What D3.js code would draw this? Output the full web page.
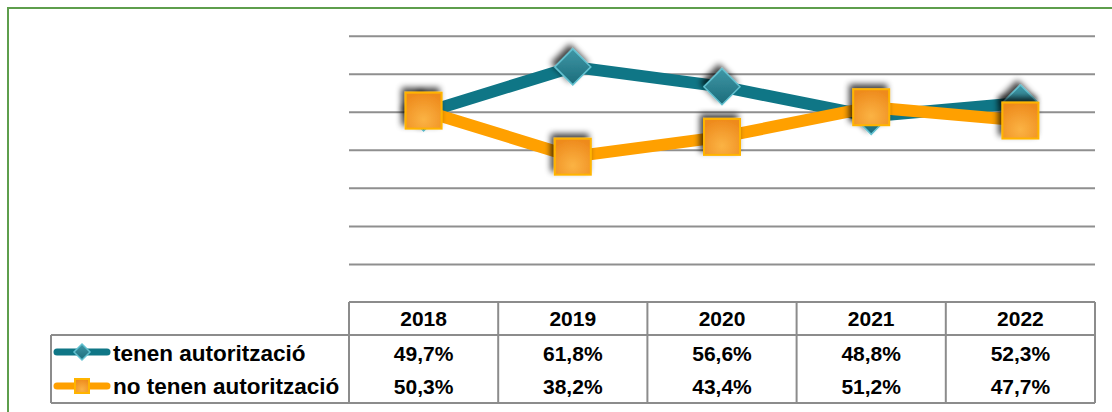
<!DOCTYPE html>
<html>
<head>
<meta charset="utf-8">
<script src="https://cdnjs.cloudflare.com/ajax/libs/d3/7.8.5/d3.min.js"></script>
<style>
  body { margin: 0; background: #fff; }
  svg { display: block; font-family: "Liberation Sans", Arial, sans-serif; }
</style>
</head>
<body>
<div id="wrapper"></div>
<script>
// data
const years = ["2018", "2019", "2020", "2021", "2022"]
const seriesNames = ["tenen autorització", "no tenen autorització"]
const tenen = [49.7, 61.8, 56.6, 48.8, 52.3]
const noTenen = [50.3, 38.2, 43.4, 51.2, 47.7]
const gridTicks = [10, 20, 30, 40, 50, 60, 70]

const fmt = v => v.toFixed(1).replace(".", ",") + "%"

const width = 1112, height = 412
const plot = { left: 349, right: 1095, top: 35.7, bottom: 302 }
const table = { legendLeft: 51, headerTop: 302, headerBottom: 335, bottom: 403 }

const svg = d3.select("#wrapper").append("svg")
  .attr("width", width).attr("height", height)

// defs
const defs = svg.append("defs")
const shadow = defs.append("filter").attr("id", "shadow")
  .attr("x", "-50%").attr("y", "-50%").attr("width", "200%").attr("height", "200%")
shadow.append("feGaussianBlur").attr("in", "SourceAlpha").attr("stdDeviation", 3).attr("result", "b")
shadow.append("feOffset").attr("in", "b").attr("dx", -3).attr("dy", -4).attr("result", "o")
shadow.append("feComponentTransfer").attr("in", "o").attr("result", "s")
  .append("feFuncA").attr("type", "linear").attr("slope", 0.75)
const merge = shadow.append("feMerge")
merge.append("feMergeNode").attr("in", "s")
merge.append("feMergeNode").attr("in", "SourceGraphic")

const sqGrad = defs.append("radialGradient").attr("id", "sqGrad")
  .attr("cx", "50%").attr("cy", "75%").attr("r", "75%")
sqGrad.append("stop").attr("offset", "0%").attr("stop-color", "#fbb344")
sqGrad.append("stop").attr("offset", "100%").attr("stop-color", "#ee8a1c")

const dmGrad = defs.append("linearGradient").attr("id", "dmGrad")
  .attr("x1", "0").attr("y1", "0").attr("x2", "0").attr("y2", "1")
dmGrad.append("stop").attr("offset", "0%").attr("stop-color", "#3f97a6")
dmGrad.append("stop").attr("offset", "100%").attr("stop-color", "#1c6c7b")

// green frame
svg.append("rect")
  .attr("x", 8).attr("y", 8).attr("width", 1120).attr("height", 420)
  .attr("fill", "none").attr("stroke", "#5e9e4c").attr("stroke-width", 2)

// scales
const xBand = d3.scaleBand().domain(years).range([plot.left, plot.right]).padding(0)
const x = d => xBand(d) + xBand.bandwidth() / 2
const y = d3.scaleLinear().domain([0, 70]).range([plot.bottom, plot.top])

// gridlines
const grid = svg.append("g")
  .attr("transform", `translate(${plot.left},0)`)
  .call(d3.axisRight(y).tickValues(gridTicks).tickSize(plot.right - plot.left).tickFormat(""))
grid.select(".domain").remove()
grid.selectAll("line").attr("stroke", "#8f8f8f").attr("stroke-width", 2)

// series
const series = [
  { name: seriesNames[0], values: tenen, color: "#0f7686", marker: "diamond" },
  { name: seriesNames[1], values: noTenen, color: "#ffa000", marker: "square" }
]

const line = d3.line().x((d, i) => x(years[i])).y(d => y(d))

function drawMarker(g, type, cx, cy, size, withShadow) {
  if (type === "square") {
    g.append("rect")
      .attr("x", cx - size / 2).attr("y", cy - size / 2)
      .attr("width", size).attr("height", size)
      .attr("fill", "url(#sqGrad)").attr("stroke", "#ffb400").attr("stroke-width", 2)
      .attr("filter", withShadow ? "url(#shadow)" : null)
  } else {
    const h = size / 2
    g.append("path")
      .attr("d", `M${cx},${cy - h}L${cx + h},${cy}L${cx},${cy + h}L${cx - h},${cy}Z`)
      .attr("fill", "url(#dmGrad)").attr("stroke", "#62c1d0").attr("stroke-width", 1.5)
      .attr("filter", withShadow ? "url(#shadow)" : null)
  }
}

series.forEach(s => {
  const g = svg.append("g")
  g.append("path")
    .datum(s.values)
    .attr("d", line)
    .attr("fill", "none")
    .attr("stroke", s.color)
    .attr("stroke-width", 12)
    .attr("stroke-linejoin", "round")
  s.values.forEach((v, i) => drawMarker(g, s.marker, x(years[i]), y(v), s.marker === "square" ? 36 : 36, true))
})

// data table
const tbl = svg.append("g")
const border = "#8c8c8c"
const hl = (x1, x2, yy) => tbl.append("line").attr("x1", x1).attr("x2", x2).attr("y1", yy).attr("y2", yy)
  .attr("stroke", border).attr("stroke-width", 2)
const vl = (xx, y1, y2) => tbl.append("line").attr("x1", xx).attr("x2", xx).attr("y1", y1).attr("y2", y2)
  .attr("stroke", border).attr("stroke-width", 2)

hl(plot.left, plot.right, table.headerTop)
hl(table.legendLeft, plot.right, table.headerBottom)
hl(table.legendLeft, plot.right, table.bottom)
vl(table.legendLeft, table.headerBottom, table.bottom)
years.forEach(yr => vl(xBand(yr), table.headerTop, table.bottom))
vl(plot.right, table.headerTop, table.bottom)

const rowBase = [360.5, 394]
const rowMid = [352, 386]

tbl.selectAll(".year").data(years).enter().append("text")
  .attr("x", d => x(d)).attr("y", 326)
  .attr("text-anchor", "middle").attr("font-weight", "bold").attr("font-size", 21)
  .text(d => d)

series.forEach((s, r) => {
  tbl.selectAll(".v" + r).data(s.values).enter().append("text")
    .attr("x", (d, i) => x(years[i])).attr("y", rowBase[r])
    .attr("text-anchor", "middle").attr("font-weight", "bold").attr("font-size", 21)
    .text(d => fmt(d))

  // legend key
  tbl.append("line")
    .attr("x1", 57).attr("x2", 107).attr("y1", rowMid[r]).attr("y2", rowMid[r])
    .attr("stroke", s.color).attr("stroke-width", 7).attr("stroke-linecap", "round")
  drawMarker(tbl, s.marker, 82, rowMid[r], s.marker === "square" ? 14 : 16, false)

  tbl.append("text")
    .attr("x", 113).attr("y", rowBase[r])
    .attr("font-weight", "bold").attr("font-size", 22.5)
    .text(s.name)
})
</script>
</body>
</html>
